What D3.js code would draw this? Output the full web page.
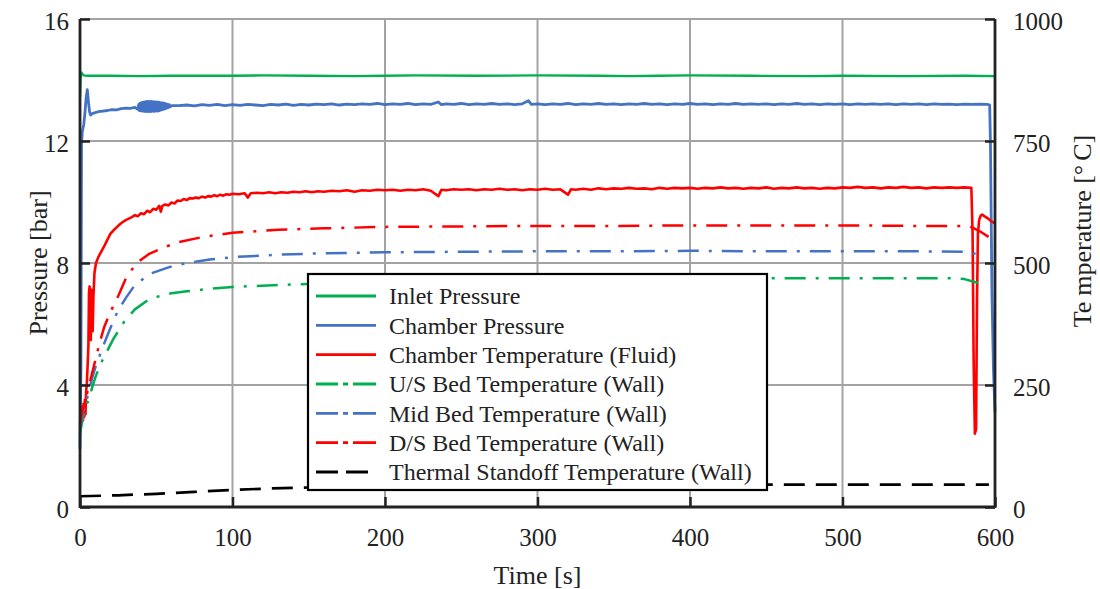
<!DOCTYPE html>
<html>
<head>
<meta charset="utf-8">
<script src="https://cdn.jsdelivr.net/npm/d3@7"></script>
<style>
  html, body { margin: 0; padding: 0; background: #fff; }
  svg { display: block; }
  text { font-family: "Liberation Serif", "Times New Roman", serif; fill: #222; }
</style>
</head>
<body>
<svg id="chart" width="1100" height="589"></svg>
<script>
// ---- Test run data: time [s] vs value ----
const timeTicks = [0, 100, 200, 300, 400, 500, 600];
const pressureTicks = [0, 4, 8, 12, 16];
const temperatureTicks = [0, 250, 500, 750, 1000];

// Pressure series [bar]
const inletPressure = [
  [0, 13.4], [0.4, 14.0], [0.9, 14.25], [1.5, 14.2], [2.5, 14.15], [5, 14.14], [20, 14.14],
  [40, 14.13], [60, 14.14], [100, 14.14], [120, 14.15], [150, 14.14], [180, 14.13], [200, 14.14],
  [220, 14.15], [260, 14.14], [300, 14.15], [340, 14.14], [360, 14.13], [380, 14.14], [400, 14.15],
  [440, 14.14], [480, 14.13], [500, 14.14], [540, 14.13], [580, 14.14], [600, 14.13]
];

const chamberPressure = [
  [0, 1.9], [0.6, 4.5], [1, 11.9], [1.5, 12.3], [2.5, 12.55], [3.2, 12.9], [4, 13.4], [4.8, 13.68],
  [5.5, 13.3], [6.3, 12.95], [7, 12.85], [8, 12.9], [10, 12.93], [12, 12.96], [15, 12.98], [18, 13.0],
  [21, 13.03], [24, 13.02], [27, 13.06], [30, 13.08], [33, 13.07], [36, 13.1],
  [38, 13.04], [38.5, 13.2], [39, 13.0], [39.5, 13.24], [40, 12.99], [40.5, 13.26], [41, 12.98],
  [41.5, 13.27], [42, 12.97], [42.5, 13.28], [43, 12.97], [43.5, 13.29], [44, 12.96], [44.5, 13.3],
  [45, 12.97], [45.5, 13.29], [46, 12.96], [46.5, 13.3], [47, 12.97], [47.5, 13.29], [48, 12.98],
  [48.5, 13.28], [49, 12.97], [49.5, 13.28], [50, 12.99], [50.5, 13.27], [51, 12.98], [51.5, 13.27],
  [52, 13.0], [52.5, 13.26], [53, 13.01], [53.5, 13.25], [54, 13.03], [54.5, 13.25], [55, 13.04],
  [55.5, 13.23], [56, 13.06], [56.5, 13.22], [57, 13.08], [57.5, 13.2], [58, 13.1], [58.5, 13.19],
  [59, 13.12], [60, 13.16],
  [65, 13.16], [70, 13.18], [75, 13.15], [80, 13.19], [85, 13.17], [90, 13.2], [95, 13.16], [100, 13.19],
  [105, 13.17], [110, 13.2], [115, 13.18], [120, 13.16], [125, 13.2], [130, 13.18], [135, 13.21],
  [140, 13.17], [145, 13.2], [150, 13.18], [155, 13.21], [160, 13.19], [165, 13.22], [170, 13.18],
  [175, 13.21], [180, 13.19], [185, 13.22], [190, 13.2], [195, 13.23], [200, 13.19], [205, 13.22],
  [210, 13.2], [215, 13.23], [220, 13.19], [225, 13.22], [230, 13.2], [235, 13.28], [237, 13.19],
  [240, 13.22], [245, 13.2], [250, 13.23], [255, 13.19], [260, 13.22], [265, 13.2], [270, 13.23],
  [275, 13.2], [280, 13.22], [285, 13.19], [290, 13.22], [294, 13.32], [296, 13.2], [300, 13.22],
  [305, 13.19], [310, 13.22], [315, 13.2], [320, 13.23], [325, 13.19], [330, 13.22], [335, 13.2],
  [340, 13.23], [345, 13.2], [350, 13.22], [355, 13.19], [360, 13.22], [365, 13.2], [370, 13.23],
  [375, 13.2], [380, 13.22], [385, 13.19], [390, 13.22], [395, 13.2], [400, 13.23], [405, 13.2],
  [410, 13.22], [415, 13.19], [420, 13.22], [425, 13.2], [430, 13.23], [435, 13.2], [440, 13.22],
  [445, 13.2], [450, 13.22], [455, 13.19], [460, 13.22], [465, 13.2], [470, 13.23], [475, 13.2],
  [480, 13.22], [485, 13.19], [490, 13.22], [495, 13.2], [500, 13.22], [505, 13.19], [510, 13.22],
  [515, 13.2], [520, 13.22], [525, 13.2], [530, 13.22], [535, 13.19], [540, 13.22], [545, 13.2],
  [550, 13.22], [555, 13.19], [560, 13.22], [565, 13.2], [570, 13.21], [575, 13.19], [580, 13.21],
  [585, 13.2], [590, 13.21], [595, 13.2], [596.5, 13.18], [597, 12], [598, 7], [599, 4.5], [600, 3.1]
];

// Temperature series [°C]
const chamberTemperature = [
  [1.2, 175], [1.6, 205], [2, 178], [2.4, 212], [2.8, 185], [3.2, 220], [3.6, 190], [4, 235],
  [4.5, 255], [5, 290], [5.5, 330], [5.9, 440], [6.3, 452], [6.7, 350], [7.1, 342], [7.5, 445],
  [7.9, 440], [8.3, 360], [8.8, 430], [9.5, 480], [10.5, 500], [12, 512], [14, 524], [16, 535],
  [18, 548], [20, 560], [22, 567], [24, 573], [26, 579], [28, 584], [30, 588], [32, 591], [34, 594],
  [36, 598], [38, 596], [40, 602], [42, 600], [44, 607], [46, 604], [48, 611], [50, 609], [52, 617],
  [53, 605], [54, 617], [56, 620], [58, 618], [60, 624], [62, 622], [64, 628], [66, 627], [68, 631],
  [70, 629], [72, 633], [74, 632], [76, 634], [78, 633], [80, 636], [82, 634], [84, 637], [86, 636],
  [88, 639], [90, 637], [92, 640], [94, 638], [96, 641], [98, 640], [100, 642], [104, 641], [108, 643],
  [110, 634], [112, 643], [116, 644], [120, 643], [124, 645], [128, 643], [132, 645], [136, 644],
  [140, 646], [144, 645], [148, 647], [152, 645], [156, 647], [160, 646], [165, 648], [170, 647],
  [175, 649], [180, 646], [185, 649], [190, 648], [195, 650], [200, 649], [205, 650], [210, 648],
  [215, 650], [220, 649], [225, 651], [230, 648], [235, 637], [237, 650], [240, 649], [245, 651],
  [250, 650], [255, 651], [260, 649], [265, 651], [270, 650], [275, 652], [280, 650], [285, 651],
  [290, 649], [295, 651], [300, 650], [305, 652], [310, 650], [315, 651], [320, 640], [322, 651],
  [325, 650], [330, 652], [335, 650], [340, 653], [345, 651], [350, 653], [355, 652], [360, 654],
  [365, 652], [370, 653], [375, 651], [380, 654], [385, 652], [390, 654], [395, 653], [400, 654],
  [405, 652], [410, 654], [415, 653], [420, 655], [425, 653], [430, 654], [435, 652], [440, 654],
  [445, 653], [450, 655], [455, 652], [460, 654], [465, 653], [470, 655], [475, 653], [480, 654],
  [485, 652], [490, 654], [495, 653], [500, 655], [505, 654], [510, 656], [515, 654], [520, 655],
  [525, 653], [530, 655], [535, 654], [540, 656], [545, 654], [550, 655], [555, 653], [560, 655],
  [565, 654], [570, 655], [575, 654], [580, 655], [584.5, 654], [585.3, 560], [586, 300], [586.8, 150],
  [587.6, 160], [588.2, 420], [588.8, 560], [589.6, 588], [590.6, 597], [591.6, 599], [593, 596],
  [595, 592], [597, 587], [600, 581]
];

const upstreamBedTemperature = [
  [0, 150], [2, 185], [4, 205], [6, 225], [8, 245], [10, 265], [13, 290], [17, 315], [22, 345],
  [29, 380], [36, 405], [45, 425], [52, 432], [60, 438], [70, 442], [85, 447], [100, 451], [130, 455],
  [160, 458], [200, 461], [250, 464], [300, 466], [350, 467], [400, 468], [460, 469], [500, 469],
  [550, 469], [570, 469], [580, 467], [589, 459]
];

const midBedTemperature = [
  [0, 160], [2, 195], [4, 215], [6, 240], [8, 265], [10, 285], [14, 320], [18, 352], [23, 390],
  [26, 408], [30, 428], [36, 455], [46, 478], [59, 492], [70, 500], [85, 507], [100, 512], [130, 517],
  [160, 520], [200, 522], [250, 523], [300, 524], [350, 524], [400, 525], [450, 524], [500, 524],
  [550, 524], [580, 523], [589, 518]
];

const downstreamBedTemperature = [
  [0, 170], [2, 205], [4, 225], [6, 250], [8, 275], [10, 300], [13, 338], [16, 370], [20, 400],
  [25, 432], [30, 468], [37, 500], [45, 518], [55, 532], [65, 543], [80, 553], [100, 562], [130, 568],
  [160, 571], [200, 574], [250, 575], [300, 576], [350, 576], [400, 577], [450, 577], [500, 577],
  [550, 576], [578, 576], [585, 573], [590, 565], [597, 551]
];

const standoffTemperature = [
  [0, 22], [25, 24], [50, 27], [75, 31], [100, 35], [125, 38], [150, 40], [200, 42], [250, 44],
  [300, 45], [350, 45], [400, 45], [450, 46], [500, 46], [550, 46], [596, 46]
];

const legendLabels = [
  "Inlet Pressure",
  "Chamber Pressure",
  "Chamber Temperature (Fluid)",
  "U/S Bed Temperature (Wall)",
  "Mid Bed Temperature (Wall)",
  "D/S Bed Temperature (Wall)",
  "Thermal Standoff Temperature (Wall)"
];

// ---- Layout ----
const svg = d3.select("#chart");
const plot = { left: 80, right: 995, top: 19, bottom: 507 };

const x = d3.scaleLinear().domain([0, 600]).range([plot.left, plot.right]);
const yP = d3.scaleLinear().domain([0, 16]).range([plot.bottom, plot.top]);
const yT = d3.scaleLinear().domain([0, 1000]).range([plot.bottom, plot.top]);

const GREEN = "#00b050", BLUE = "#4472c4", RED = "#ff0000", BLACK = "#000";
const DASHDOT = "21,10,3,10";
const DASHED = "21,11";

// Series definitions: data, axis, colour, dash pattern
const series = [
  { data: inletPressure, y: yP, color: GREEN, dash: null, width: 2.3, legendDash: null },
  { data: chamberPressure, y: yP, color: BLUE, dash: null, width: 2.8, legendDash: null },
  { data: chamberTemperature, y: yT, color: RED, dash: null, width: 2.6, legendDash: null },
  { data: upstreamBedTemperature, y: yT, color: GREEN, dash: DASHDOT, width: 2.5, legendDash: "22,5,5,5,40" },
  { data: midBedTemperature, y: yT, color: BLUE, dash: DASHDOT, width: 2.5, legendDash: "22,5,5,5,40" },
  { data: downstreamBedTemperature, y: yT, color: RED, dash: DASHDOT, width: 2.5, legendDash: "22,5,5,5,40" },
  { data: standoffTemperature, y: yT, color: BLACK, dash: DASHED, width: 2.7, legendDash: "22,8" }
];

// ---- Grid ----
const grid = svg.append("g").attr("stroke", "#a3a3a3").attr("stroke-width", 2);
grid.selectAll("line.h").data(pressureTicks.slice(1)).join("line")
  .attr("x1", plot.left).attr("x2", plot.right)
  .attr("y1", d => yP(d)).attr("y2", d => yP(d));
grid.selectAll("line.v").data(timeTicks.slice(1, -1)).join("line")
  .attr("x1", d => x(d)).attr("x2", d => x(d))
  .attr("y1", plot.top).attr("y2", plot.bottom);

// ---- Data lines ----
const lines = svg.append("g").attr("fill", "none");
series.forEach(s => {
  const gen = d3.line().x(d => x(d[0])).y(d => s.y(d[1]));
  lines.append("path")
    .attr("d", gen(s.data))
    .attr("stroke", s.color)
    .attr("stroke-width", s.width)
    .attr("stroke-linejoin", "round")
    .attr("stroke-dasharray", s.dash);
});

// ---- Axes (ticks point inward) ----
function styleAxis(g) {
  g.attr("font-family", null);
  g.select(".domain").remove();
  g.selectAll(".tick line").attr("stroke", "#222").attr("stroke-width", 2.5);
  g.selectAll(".tick text").attr("font-size", 25).attr("fill", "#222");
}

svg.append("g").attr("transform", `translate(${plot.left},0)`)
  .call(d3.axisLeft(yP).tickValues(pressureTicks).tickFormat(d3.format("d"))
    .tickSizeInner(-10).tickSizeOuter(0).tickPadding(11))
  .call(styleAxis)
  .call(g => g.selectAll(".tick text").attr("dy", "0.42em"));

svg.append("g").attr("transform", `translate(${plot.right},0)`)
  .call(d3.axisRight(yT).tickValues(temperatureTicks).tickFormat(d3.format("d"))
    .tickSizeInner(-10).tickSizeOuter(0).tickPadding(18))
  .call(styleAxis)
  .call(g => g.selectAll(".tick text").attr("dy", "0.42em"));

svg.append("g").attr("transform", `translate(0,${plot.bottom})`)
  .call(d3.axisBottom(x).tickValues(timeTicks).tickFormat(d3.format("d"))
    .tickSizeInner(-10).tickSizeOuter(0).tickPadding(21))
  .call(styleAxis);

// Frame: left, bottom and right axis lines
const frame = svg.append("g").attr("stroke", "#222").attr("stroke-width", 2.8);
frame.append("line").attr("x1", plot.left).attr("x2", plot.left).attr("y1", plot.top).attr("y2", plot.bottom + 1);
frame.append("line").attr("x1", plot.left).attr("x2", plot.right).attr("y1", plot.bottom).attr("y2", plot.bottom);
frame.append("line").attr("x1", plot.right).attr("x2", plot.right).attr("y1", plot.top).attr("y2", plot.bottom + 1);

// ---- Axis titles ----
svg.append("text")
  .attr("transform", `translate(47,${(plot.top + plot.bottom) / 2}) rotate(-90)`)
  .attr("text-anchor", "middle").attr("font-size", 26)
  .text("Pressure [bar]");

const tTitle = svg.append("text")
  .attr("transform", `translate(1091,${(plot.top + plot.bottom) / 2 - 32}) rotate(-90)`)
  .attr("text-anchor", "middle").attr("font-size", 26);
tTitle.append("tspan").text("Te");
tTitle.append("tspan").attr("dx", 6).text("mperature [°");
tTitle.append("tspan").attr("dx", 4).text("C]");

svg.append("text")
  .attr("x", (plot.left + plot.right) / 2).attr("y", 584)
  .attr("text-anchor", "middle").attr("font-size", 26)
  .text("Time [s]");

// ---- Legend ----
const legend = svg.append("g");
legend.append("rect")
  .attr("x", 308).attr("y", 274).attr("width", 459).attr("height", 216)
  .attr("fill", "#fff").attr("stroke", "#000").attr("stroke-width", 2.2);

const rowY = d3.scalePoint().domain(d3.range(legendLabels.length)).range([296, 472]);
legendLabels.forEach((label, i) => {
  const s = series[i];
  legend.append("line")
    .attr("x1", 316).attr("x2", 376)
    .attr("y1", rowY(i)).attr("y2", rowY(i))
    .attr("stroke", s.color).attr("stroke-width", 2.8)
    .attr("stroke-dasharray", s.legendDash);
  legend.append("text")
    .attr("x", 389).attr("y", rowY(i)).attr("dy", "0.35em")
    .attr("font-size", 24).attr("fill", "#111")
    .text(label);
});
</script>
</body>
</html>
